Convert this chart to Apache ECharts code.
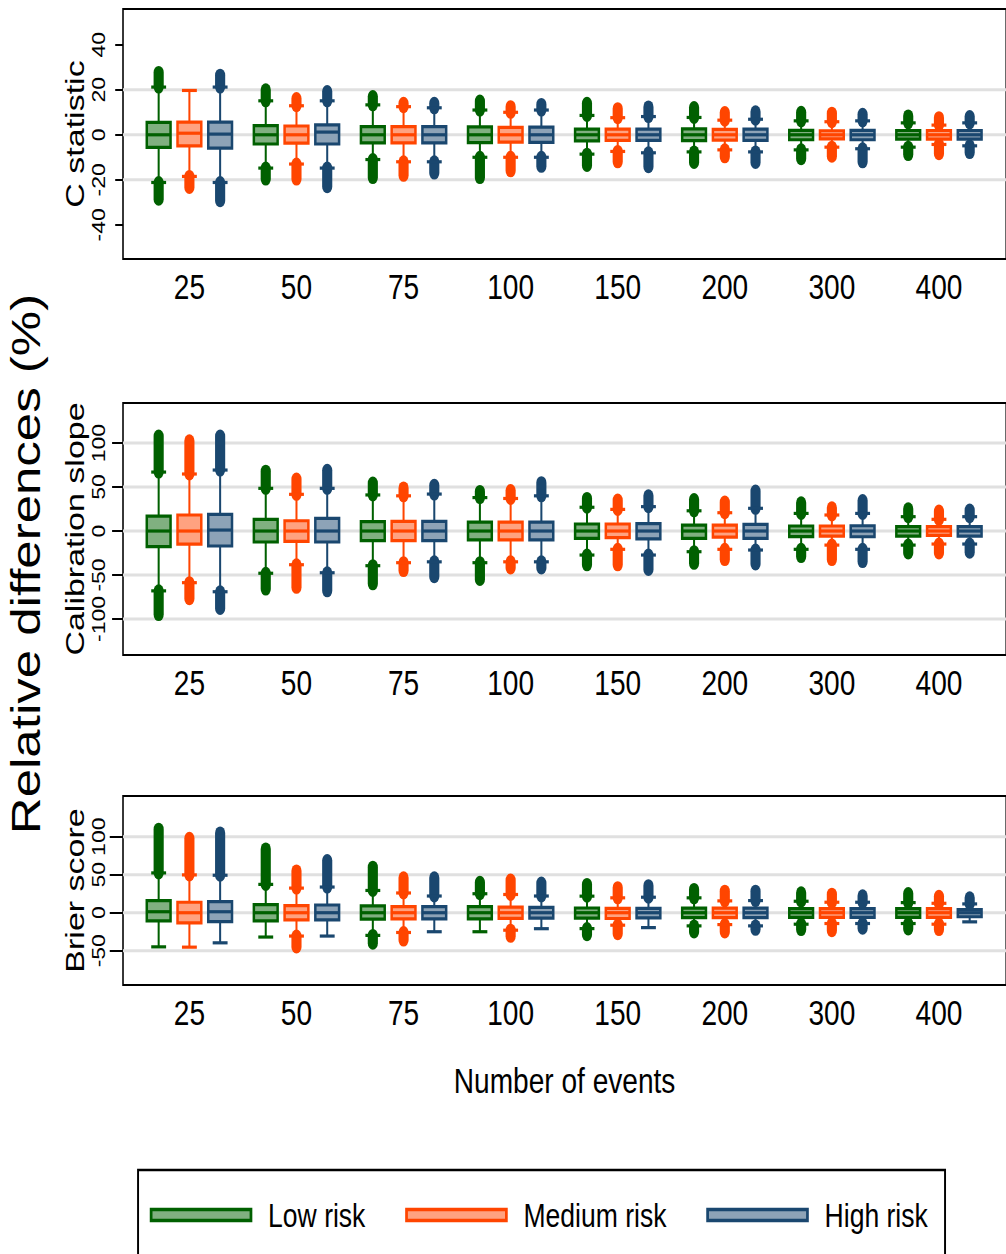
<!DOCTYPE html>
<html>
<head>
<meta charset="utf-8">
<script src="https://cdn.jsdelivr.net/npm/echarts@6/dist/echarts.min.js"></script>
<style>
html,body{margin:0;padding:0;width:1006px;height:1254px;overflow:hidden;background:#fff;}
#main{width:1290px;height:1254px;transform:scaleX(0.78);transform-origin:0 0;}
</style>
</head>
<body>
<div id="main"></div>
<script>
// ---------- DATA ----------
const categories = ['25','50','75','100','150','200','300','400'];
const riskNames = ['Low risk','Medium risk','High risk'];
// each item: [lower whisker, Q1, median, Q3, upper whisker, lowest outlier, highest outlier]
const cstatLow = [
  [-21.2,-5.6,0,5.5,21.2,-28.6,27.7],[-14.8,-4.1,0,4.1,15.1,-19.7,20],[-11,-3.6,0,3.6,13.3,-19,17],
  [-10,-3.5,0,3.5,11,-19,15],[-8.6,-2.7,0,2.5,8.6,-13.6,14],[-7.6,-2.6,0,2.6,7.7,-12.3,12.1],
  [-6.7,-2.2,0,2.0,6.2,-10.6,10],[-5.5,-1.9,0,1.9,5.3,-8.8,8.4]];
const cstatMed = [
  [-18.5,-4.9,0.7,5.6,19.7,-23.4,null],[-13,-3.7,0,3.9,12.9,-19.7,16.1],[-12,-3.6,0,3.6,12.5,-18,14],
  [-10,-3.3,0,3.3,10,-16,12.5],[-7.4,-2.5,0,2.5,7.6,-12,11.6],[-6.7,-2.4,0,2.4,6.5,-9.8,9.9],
  [-5.5,-1.8,0,1.8,5.8,-9.5,9.6],[-4.3,-1.9,0,1.9,4.3,-8.4,7.6]];
const cstatHigh = [
  [-21.2,-5.9,0.3,5.6,21.2,-29.3,26.5],[-14.8,-4.1,1.2,4.4,15.1,-23.1,19.2],[-12,-3.6,0,3.6,12,-17,14],
  [-10,-3.4,0,3.4,11,-14,13.5],[-8,-2.5,0,2.5,8.1,-14.2,12.4],[-7.6,-2.5,0,2.5,6.9,-12.3,10.2],
  [-6.2,-2.2,0,2.0,6.2,-12,9.1],[-4.9,-1.9,0,1.9,5.3,-7.9,8.1]];

const calLow = [
  [-68,-17.8,0,17,67,-95,108],[-48,-12.5,0,13.3,48.5,-66,68],[-39.4,-11,0,10.6,41,-60,54.5],
  [-36,-10,0,10,38,-55,45],[-27.3,-8.3,0,8,27,-38.4,37],[-23.5,-8.3,0,6.8,23,-36.7,35.8],
  [-20.8,-6.4,0,5.7,20,-29,32],[-16,-5.7,0,4.9,16.3,-25,25.2]];
const calMed = [
  [-58.7,-14.8,0,18.2,64.8,-77,102.6],[-38.3,-11.7,0,11.7,41.7,-64,59],[-36,-11,0,11,40,-45,49],
  [-35,-10,0,10,37,-42,46],[-20.8,-7.5,0,8,24.6,-38.4,35.2],[-20.8,-7,0,6.8,20.8,-32.4,33],
  [-16,-5.7,0,5.7,18.2,-32.4,26.4],[-14.8,-5,0,4.9,13.3,-25,22.7]];
const calHigh = [
  [-69,-17,1.1,19,69.3,-88,108],[-47.4,-12.5,0,14.4,48.5,-68,69],[-35,-11,0,11,42,-52,52],
  [-35,-10,0,10,40,-42,55],[-27.3,-9,0,8.5,27.7,-43.7,40],[-21.6,-8.3,0,7.6,25.8,-37.5,45.5],
  [-20.8,-6.5,0,6,20,-34.7,34.7],[-14.8,-5.7,0,4.9,16.3,-24,23.9]];

const brierLow = [
  [-44.9,-10.7,1.3,16,52.4,null,110],[-32,-10.7,0,10.7,37.3,null,84],[-29.8,-8.4,0,8.9,29.3,-40,60],
  [-25,-8,0,8,25,null,40],[-20.9,-7.1,0,6.2,21.8,-29,37.3],[-17.3,-6.5,0,6,19.6,-25.3,30.7],
  [-15.1,-6,0,5.5,15.1,-22.2,26.2],[-14.2,-6,0,5.3,13.3,-21.3,25.3]];
const brierMed = [
  [-45.3,-13.3,0,13.8,49.8,null,98],[-30.7,-9.3,0,9.3,32.4,-45,55],[-26,-8,0,8,26,-36,46],
  [-23,-7.5,0,7.5,24,-31,43],[-16.4,-7.6,0,5.8,19.6,-27.6,33],[-15.6,-6.5,0,6,15.6,-25.3,28.4],
  [-14.2,-6,0,5.5,13.8,-23.6,24.4],[-15.1,-6,0,5.3,12.4,-22.2,21.7]];
const brierHigh = [
  [-39.6,-11.6,1.3,14.7,49.3,null,105],[-30.7,-9.3,0,10.2,33.8,null,68.7],[-25,-8,0,8,22,null,46],
  [-21,-7,0,7,22,null,39],[-19.6,-6.7,0,5.8,20.4,null,35.6],[-17.3,-6.5,0,6,16,-21.8,28.4],
  [-14.2,-6,0,5.5,13.8,-20.4,22.2],[-12,-5.3,0,4,11.6,null,19.6]];

const cstatTicks = [-40,-20,0,20,40];
const cstatGrid = [-20,0,20];
const calTicks = [-100,-50,0,50,100];
const calGrid = [-100,-50,0,50,100];
const brierTicks = [-50,0,50,100];
const brierGrid = [-50,0,50,100];

// ---------- STYLE / LAYOUT ----------
const darks = ['#006000','#ff4500','#1a476f'];
const fills = ['#80b080','#ffa280','#8da3b7'];
const riskOffset = [-0.287, 0, 0.287];
const boxFrac = 0.222, capFrac = 0.139;
const FONT = "'Liberation Sans', Arial, Helvetica, sans-serif";

const panels = [
  {name:'C statistic', sets:[cstatLow,cstatMed,cstatHigh], ticks:cstatTicks, grid:cstatGrid,
   top:9, height:250, min:-55.2, max:55.9, tickLen:10},
  {name:'Calibration slope', sets:[calLow,calMed,calHigh], ticks:calTicks, grid:calGrid,
   top:403, height:252, min:-140.9, max:145.5, tickLen:14},
  {name:'Brier score', sets:[brierLow,brierMed,brierHigh], ticks:brierTicks, grid:brierGrid,
   top:796, height:189, min:-95.1, max:153.6, tickLen:17}
];

function ln(x1,y1,x2,y2,color,w,cap){
  return {type:'line', shape:{x1,y1,x2,y2}, style:{stroke:color, lineWidth:w, lineCap:cap||'butt'}};
}
function okv(v){ return v != null && !isNaN(v); }

function makeRender(k){
  return function(params, api){
    const xc = api.value(0) + riskOffset[k];
    const lo=api.value(1), q1=api.value(2), md=api.value(3), q3=api.value(4), hi=api.value(5), oLo=api.value(6), oHi=api.value(7);
    const px = api.coord([xc, md])[0];
    const unit = api.size([1,0])[0];
    const bw = unit*boxFrac, cw = unit*capFrac;
    const Y = v => api.coord([xc, v])[1];
    const d = darks[k];
    const ch = [];
    if (okv(oHi)) ch.push(ln(px, Y(hi), px, Y(oHi), d, 13, 'round'));
    if (okv(oLo)) ch.push(ln(px, Y(lo), px, Y(oLo), d, 13, 'round'));
    ch.push(ln(px, Y(lo), px, Y(hi), d, 2.6));
    ch.push(ln(px-cw/2, Y(hi), px+cw/2, Y(hi), d, 3.2));
    ch.push(ln(px-cw/2, Y(lo), px+cw/2, Y(lo), d, 3.2));
    const yT = Y(q3), yB = Y(q1);
    ch.push({type:'rect', shape:{x:px-bw/2, y:yT, width:bw, height:yB-yT},
             style:{fill:fills[k], stroke:d, lineWidth:3.2}});
    ch.push(ln(px-bw/2, Y(md), px+bw/2, Y(md), d, 3.2));
    return {type:'group', children:ch};
  };
}

const gridLeft = 157.7, gridWidth = 1142.3;
const grids = [], xAxes = [], yAxes = [], series = [];
panels.forEach((p, gi) => {
  grids.push({left:gridLeft, top:p.top, width:gridWidth, height:p.height, show:true,
              borderColor:'#000', borderWidth:2, backgroundColor:'#fff'});
  const xa = {type:'value', gridIndex:gi, min:-0.62, max:7.628,
    axisLine:{show:false, onZero:false}, axisTick:{show:false}, splitLine:{show:false},
    axisLabel:{customValues:categories.map((c,i)=>i), formatter:v=>categories[Math.round(v)],
               fontSize:36, color:'#000', fontFamily:FONT, margin:10}};
  if (gi === 2) {
    xa.name = 'Number of events'; xa.nameLocation = 'middle'; xa.nameGap = 78;
    xa.nameMoveOverlap = false;
    xa.nameTextStyle = {fontSize:36, color:'#000', fontFamily:FONT};
  }
  xAxes.push(xa);
  yAxes.push({type:'value', gridIndex:gi, min:p.min, max:p.max,
    axisLine:{show:false, onZero:false}, splitLine:{show:false},
    axisTick:{show:true, customValues:p.ticks, length:p.tickLen, lineStyle:{color:'#000', width:2}},
    axisLabel:{customValues:p.ticks, rotate:90, fontSize:23, color:'#000', fontFamily:FONT, margin:20},
    name:p.name, nameLocation:'middle', nameGap:45, nameMoveOverlap:false,
    nameTextStyle:{fontSize:34, color:'#000', fontFamily:FONT}});
  series.push({type:'custom', xAxisIndex:gi, yAxisIndex:gi, z:1, silent:true,
    data:p.grid.map(v=>[0, v]), encode:{x:0, y:1},
    renderItem:function(params, api){
      const cs = params.coordSys;
      const y = api.coord([0, api.value(1)])[1];
      return ln(cs.x, y, cs.x+cs.width, y, '#e0e0e0', 3);
    }});
  p.sets.forEach((arr, k) => {
    series.push({type:'custom', name:riskNames[k], xAxisIndex:gi, yAxisIndex:gi, z:2, silent:true,
      itemStyle:{color:darks[k]},
      data:categories.map((c,i)=>[i].concat(arr[i])),
      encode:{x:0, y:[1,2,3,4,5,6,7]},
      renderItem:makeRender(k)});
  });
});

const chart = echarts.init(document.getElementById('main'), null, {renderer:'svg'});
chart.setOption({
  animation:false,
  backgroundColor:'#fff',
  grid:grids, xAxis:xAxes, yAxis:yAxes, series:series,
  legend:{selectedMode:false, left:192, top:1195, padding:0, itemGap:51,
    itemWidth:128, itemHeight:11,
    textStyle:{fontSize:34, color:'#000', fontFamily:FONT, lineHeight:40, padding:[0,0,0,17]},
    data:riskNames.map((n,k)=>({name:n, icon:'rect',
      itemStyle:{color:fills[k], borderColor:darks[k], borderWidth:3.5}}))},
  graphic:[
    {type:'text', x:34.6, y:564, rotation:Math.PI/2,
     style:{text:'Relative differences (%)', fontSize:51, fontFamily:FONT, fill:'#000',
            align:'center', verticalAlign:'middle'}},
    {type:'rect', shape:{x:177, y:1170, width:1034.6, height:200},
     style:{fill:'none', stroke:'#000', lineWidth:2.5}}
  ]
});
</script>
</body>
</html>
